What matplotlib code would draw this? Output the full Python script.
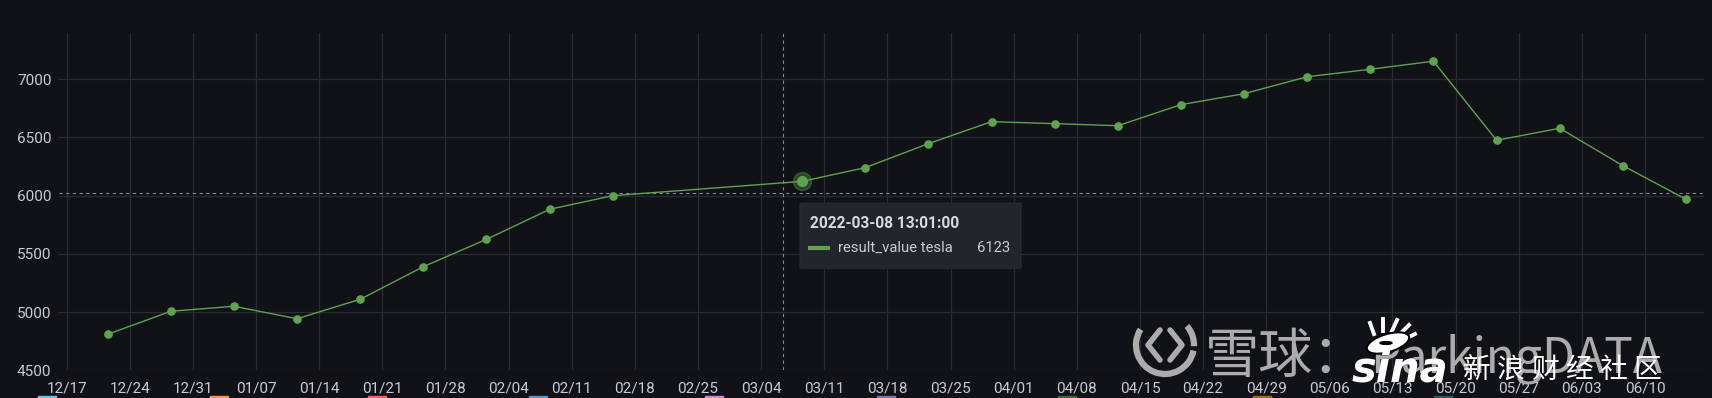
import matplotlib
matplotlib.use('Agg')
import matplotlib.pyplot as plt
import matplotlib.dates as mdates
import pandas as pd
from matplotlib.patches import FancyBboxPatch, Rectangle, Arc, Ellipse, Circle
from matplotlib.lines import Line2D

# ---------------- data ----------------
dates = ['2021-12-21 13:01', '2021-12-28 13:01', '2022-01-04 13:01', '2022-01-11 13:01',
         '2022-01-18 13:01', '2022-01-25 13:01', '2022-02-01 13:01', '2022-02-08 13:01',
         '2022-02-15 13:01',
         '2022-03-08 13:01', '2022-03-15 13:01', '2022-03-22 13:01', '2022-03-29 13:01',
         '2022-04-05 13:01', '2022-04-12 13:01', '2022-04-19 13:01', '2022-04-26 13:01',
         '2022-05-03 13:01', '2022-05-10 13:01', '2022-05-17 13:01', '2022-05-24 13:01',
         '2022-05-31 13:01', '2022-06-07 13:01', '2022-06-14 13:01']
values = [4809, 5007, 5050, 4943, 5110, 5390, 5625, 5883, 6000,
          6123, 6241, 6447, 6636, 6619, 6601, 6782, 6876, 7022, 7086, 7155,
          6476, 6579, 6258, 5969]
series_name = 'result_value tesla'
hover_date = '2022-03-08 13:01'
hover_value = 6123
hover_label = '2022-03-08 13:01:00'
cursor_date = '2022-03-06 10:50'
cursor_value = 6020
x_start = '2021-12-16 02:10'
x_end = '2022-06-16 13:48'
y_ticks = [4500, 5000, 5500, 6000, 6500, 7000]
y_range = (4500, 7395)
tick_start, tick_end = '2021-12-17', '2022-06-10'
legend_colors = ['#65C5DB', '#F9934E', '#EA6460', '#5195CE', '#D683CE',
                 '#806EB7', '#3F6833', '#967302', '#2F575E']
legend_x = [38, 210, 368, 529, 705, 877, 1058, 1253, 1434]

# ---------------- style ----------------
W, H = 1712, 398
BG = '#111217'
GRID = '#2b2c32'
TXT = '#c7cbd3'
GREEN = '#5fa24f'
plt.rcParams['font.family'] = ['Roboto', 'DejaVu Sans']

def fx(x):
    return x / W

def fy(y):
    return 1 - y / H

fig = plt.figure(figsize=(W / 100, H / 100), dpi=100, facecolor=BG)
L, R, T, B = 58.5, 1704.3, 33.3, 370.3
ax = fig.add_axes([fx(L), fy(B), fx(R) - fx(L), fy(T) - fy(B)])
ax.set_facecolor(BG)

d = pd.to_datetime(dates)
ax.plot(d, values, color=GREEN, lw=1.0, marker='o', ms=5.2, zorder=4)
hd = pd.Timestamp(hover_date)
ax.plot([hd], [hover_value], 'o', color=GREEN, ms=13, alpha=0.35, zorder=5)
ax.plot([hd], [hover_value], 'o', color=GREEN, ms=7, zorder=6)

ax.set_xlim(pd.Timestamp(x_start), pd.Timestamp(x_end))
ax.set_ylim(*y_range)
ax.set_yticks(y_ticks)
ax.set_xticks(pd.date_range(tick_start, tick_end, freq='7D'))
ax.xaxis.set_major_formatter(mdates.DateFormatter('%m/%d'))
ax.grid(True, color=GRID, lw=0.9)
ax.set_axisbelow(True)
for s in ax.spines.values():
    s.set_visible(False)
ax.tick_params(axis='both', length=0, colors=TXT, labelsize=11)
ax.tick_params(axis='x', pad=8)
ax.tick_params(axis='y', pad=5)

# crosshair
ax.axvline(pd.Timestamp(cursor_date), color='#7f8d99', lw=0.8, ls=(0, (3, 3)), zorder=3)
ax.axhline(cursor_value, color='#7f8d99', lw=0.8, ls=(0, (3, 3)), zorder=3)

# tooltip
tb = FancyBboxPatch((fx(800), fy(268.3)), fx(221), 65 / H,
                    boxstyle='round,pad=0,rounding_size=0.002',
                    transform=fig.transFigure, facecolor='#22252b',
                    edgecolor='#2a2d33', lw=0.8, zorder=10)
fig.patches.append(tb)
fig.text(fx(810), fy(223.5), hover_label, color='#d8d9e0', fontsize=11.2,
         fontweight='bold', va='center', ha='left', zorder=11)
fig.lines.append(Line2D([fx(810), fx(828)], [fy(247.7), fy(247.7)],
                        transform=fig.transFigure, color=GREEN, lw=3, zorder=11))
fig.text(fx(837.5), fy(247.7), series_name, color=TXT, fontsize=10.7,
         va='center', ha='left', zorder=11)
fig.text(fx(1010), fy(247.7), str(hover_value), color=TXT, fontsize=10.7,
         va='center', ha='right', zorder=11)

# bottom legend (cut off)
for c, x in zip(legend_colors, legend_x):
    fig.patches.append(Rectangle((fx(x), fy(410)), fx(18), 14 / H,
                                 transform=fig.transFigure, color=c, zorder=2))

# watermark: xueqiu
WM = '#acacac'
ring = Arc((fx(1165), fy(345)), 58 / W, 58 / H, theta1=110, theta2=320,
           transform=fig.transFigure, color=WM, lw=4.5, zorder=7)
fig.patches.append(ring)
ring2 = Arc((fx(1165), fy(345)), 58 / W, 58 / H, theta1=350, theta2=75,
            transform=fig.transFigure, color=WM, lw=4.5, zorder=7)
fig.patches.append(ring2)
fig.lines.append(Line2D([fx(1160), fx(1148), fx(1160)],
                        [fy(330), fy(345), fy(360)],
                        transform=fig.transFigure, color=WM, lw=4, zorder=7,
                        solid_capstyle='round'))
fig.lines.append(Line2D([fx(1170), fx(1182), fx(1170)],
                        [fy(330), fy(345), fy(360)],
                        transform=fig.transFigure, color=WM, lw=4, zorder=7,
                        solid_capstyle='round'))
fig.text(fx(1205), fy(373), '雪球：', color=WM, fontsize=39,
         family=['Noto Sans CJK SC', 'DejaVu Sans'], va='baseline', ha='left',
         zorder=7)
fig.text(fx(1370), fy(373), 'ParkingDATA', color=WM, fontsize=34.5,
         family=['Noto Sans CJK SC', 'DejaVu Sans'], va='baseline', ha='left',
         zorder=7)

# watermark: sina
fig.text(fx(1352), fy(381), 'sina', color='white', fontsize=30, fontweight='heavy',
         fontstyle='italic', family=['DejaVu Sans'], va='baseline', ha='left', zorder=8)
fig.patches.append(Ellipse((fx(1388), fy(343)), 36 / W, 22 / H, angle=-15,
                           transform=fig.transFigure, facecolor='white',
                           edgecolor='black', lw=1.5, zorder=8))
fig.patches.append(Circle((fx(1386), fy(343)), 6 / W, transform=fig.transFigure,
                          color='black', zorder=9))
for (x0, y0, x1, y1) in [(1374, 334, 1370, 323), (1383, 331, 1383, 319),
                         (1392, 331, 1397, 320), (1400, 334, 1409, 325),
                         (1405, 339, 1415, 334)]:
    fig.lines.append(Line2D([fx(x0), fx(x1)], [fy(y0), fy(y1)],
                            transform=fig.transFigure, color='white', lw=2.8, zorder=8))
for i, ch in enumerate('新浪财经社区'):
    fig.text(fx(1477 + i * 34), fy(370), ch, color='white', fontsize=20,
             family=['Noto Sans CJK SC'], va='center', ha='center', zorder=8)

fig.savefig('out.png', dpi=100, facecolor=BG)
